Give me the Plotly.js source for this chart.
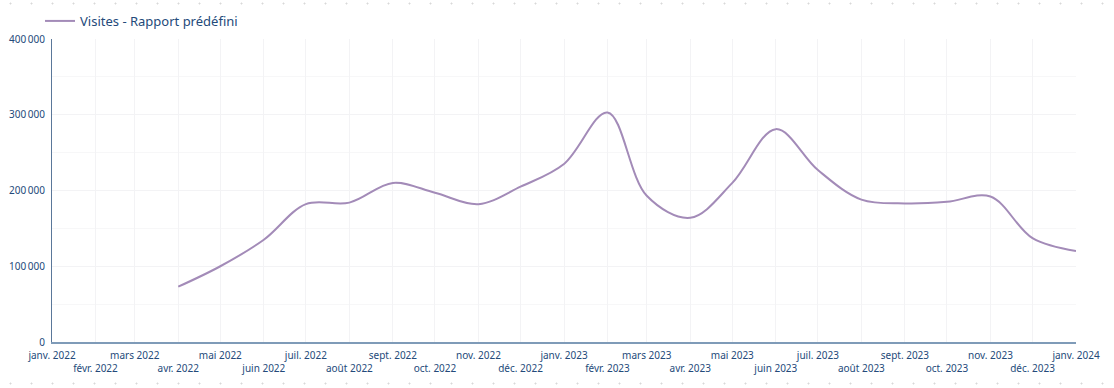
<!DOCTYPE html>
<html>
<head>
<meta charset="utf-8">
<script src="https://cdn.plot.ly/plotly-3.0.1.min.js"></script>
<style>
html,body{margin:0;padding:0;background:#fff;}
#wrap{position:relative;width:1114px;height:388px;}
#chart{width:1114px;height:388px;}
.dots{position:absolute;left:0;width:1114px;height:3px;pointer-events:none;
  background-image:radial-gradient(circle, #d8d8d8 0.8px, transparent 1.2px);
  background-size:21px 3px;background-repeat:repeat-x;}
</style>
</head>
<body>
<div id="wrap">
<div id="chart"></div>
<div class="dots" style="top:2px"></div>
<div class="dots" style="top:382px"></div>
</div>
<script>
// Data
const seriesName = "Visites - Rapport prédéfini";
const months = ["2022-04-01","2022-05-01","2022-06-01","2022-07-01","2022-08-01","2022-09-01","2022-10-01","2022-11-01","2022-12-01",
  "2023-01-01","2023-02-01","2023-03-01","2023-04-01","2023-05-01","2023-06-01","2023-07-01","2023-08-01","2023-09-01",
  "2023-10-01","2023-11-01","2023-12-01","2024-01-01"];
const visites = [73000,100000,135000,182000,184000,210000,197000,182000,205000,
  235000,303000,193000,164000,210000,281000,227000,188000,183000,
  185000,192000,137000,120000];
const tickDates = ["2022-01-01","2022-02-01","2022-03-01","2022-04-01","2022-05-01","2022-06-01","2022-07-01","2022-08-01",
  "2022-09-01","2022-10-01","2022-11-01","2022-12-01","2023-01-01","2023-02-01","2023-03-01","2023-04-01","2023-05-01",
  "2023-06-01","2023-07-01","2023-08-01","2023-09-01","2023-10-01","2023-11-01","2023-12-01","2024-01-01"];
const tickLabels = ["janv. 2022","févr. 2022","mars 2022","avr. 2022","mai 2022","juin 2022","juil. 2022","août 2022",
  "sept. 2022","oct. 2022","nov. 2022","déc. 2022","janv. 2023","févr. 2023","mars 2023","avr. 2023","mai 2023",
  "juin 2023","juil. 2023","août 2023","sept. 2023","oct. 2023","nov. 2023","déc. 2023","janv. 2024"];
const yTicks = [0,100000,200000,300000,400000];

const textColor = "#244a7a";
const fontFam = "Noto Sans, DejaVu Sans, sans-serif";
const shownTicks = tickLabels.map((t,i)=> i%2===0 ? t : "<br>"+t);

const trace = {
  x: months, y: visites, type: "scatter", mode: "lines", name: seriesName,
  line: {color: "#a38bb8", width: 2, shape: "spline", smoothing: 1}
};

const layout = {
  width: 1114, height: 388,
  margin: {l: 52, r: 38, t: 39, b: 46, autoexpand: false},
  paper_bgcolor: "rgba(0,0,0,0)", plot_bgcolor: "rgba(0,0,0,0)",
  font: {family: fontFam, color: textColor, size: 10},
  separators: ",\u202f",
  showlegend: true,
  legend: {orientation: "h", x: -0.0117, xanchor: "left", y: 1.01, yanchor: "bottom",
    font: {size: 13, color: textColor, family: fontFam}},
  xaxis: {
    type: "date", range: ["2022-01-01","2024-01-01"],
    tickvals: tickDates, ticktext: shownTicks, tickangle: 0,
    showgrid: true, gridcolor: "#f3f3f5", gridwidth: 1,
    showline: true, linecolor: "#7f9bb8", linewidth: 2,
    ticks: "", ticklabelstandoff: 3, zeroline: false, tickfont: {size: 10, color: textColor}
  },
  yaxis: {
    range: [0,400000], tickvals: yTicks, tickformat: ",d",
    showgrid: true, gridcolor: "#f3f3f5",
    minor: {dtick: 50000, showgrid: true, gridcolor: "#f7f7f8"},
    showline: true, linecolor: "#5a7799", linewidth: 1,
    ticks: "", ticklabelstandoff: 4, zeroline: false, tickfont: {size: 10, color: textColor}
  }
};

Plotly.newPlot("chart", [trace], layout, {displayModeBar: false, staticPlot: true});
</script>
</body>
</html>
